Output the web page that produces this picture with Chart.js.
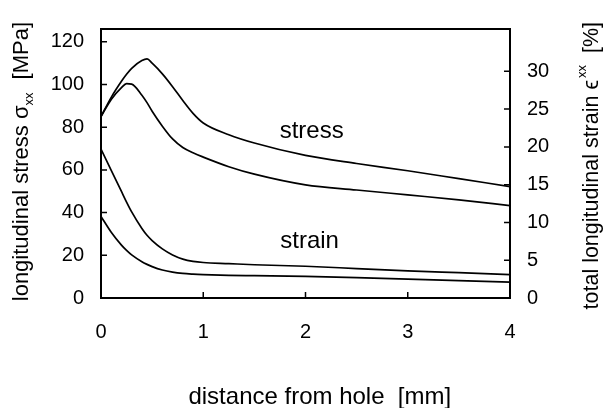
<!DOCTYPE html>
<html>
<head>
<meta charset="utf-8">
<script src="https://cdn.jsdelivr.net/npm/chart.js@4.4.1/dist/chart.umd.min.js"></script>
<style>
  html, body { margin: 0; padding: 0; background: #fff; }
  #wrap { width: 606px; height: 408px; }
</style>
</head>
<body>
<div id="wrap"><canvas id="c" width="606" height="408"></canvas></div>
<script>
// distance from hole [mm]
const distance = [0, 0.1, 0.2, 0.25, 0.3, 0.4, 0.45, 0.5, 0.6, 0.7, 0.8, 0.9, 1, 1.25, 1.5, 2, 2.5, 3, 3.5, 4];
// longitudinal stress [MPa], left axis
const stressUpper = [85, 94, 101.5, 104.8, 107.6, 111.2, 112, 110, 105, 99, 92.5, 86.5, 82, 76.5, 72.6, 66.8, 63, 59.6, 55.9, 52.2];
const stressLower = [85, 93, 98.5, 100.4, 100.2, 95, 91.5, 87.5, 80.5, 74.5, 70.5, 68, 66, 61.5, 58, 53, 50.6, 48.3, 46, 43.3];
// total longitudinal strain [%], right axis
const strainUpper = [19.7, 16.9, 14.1, 12.7, 11.4, 9.2, 8.3, 7.6, 6.5, 5.7, 5.15, 4.85, 4.7, 4.55, 4.4, 4.2, 3.9, 3.6, 3.35, 3.1];
const strainLower = [10.8, 8.7, 7.0, 6.3, 5.7, 4.8, 4.45, 4.15, 3.7, 3.42, 3.25, 3.16, 3.1, 3.0, 2.95, 2.85, 2.7, 2.5, 2.3, 2.1];

const xTicks = [0, 1, 2, 3, 4];
const stressTicks = [0, 20, 40, 60, 80, 100, 120];
const strainTicks = [0, 5, 10, 15, 20, 25, 30];
const stressMax = 126;
const strainMax = 35.6;

// in-plot curve labels, in data units (x, left axis value)
const curveLabels = [
  { text: 'stress', x: 2.06, y: 78 },
  { text: 'strain', x: 2.04, y: 26.5 }
];

const FONT = '"Liberation Sans", Arial, Helvetica, sans-serif';
const pts = ys => distance.map((x, i) => ({ x, y: ys[i] }));
const setTicks = list => scale => { scale.ticks = list.map(value => ({ value })); };

const line = (data, axis) => ({
  data: pts(data), yAxisID: axis,
  borderColor: '#000', borderWidth: 1.7, pointRadius: 0,
  cubicInterpolationMode: 'monotone', fill: false
});

// draws texts in a rotated frame (reading bottom to top), ending at yEnd
function rotatedTitle(ctx, x, yEnd, parts) {
  let total = 0;
  parts.forEach(p => { ctx.font = p.size + 'px ' + FONT; p.w = ctx.measureText(p.text).width; total += p.w + (p.gap || 0); });
  ctx.save();
  ctx.translate(x, yEnd + total);
  ctx.rotate(-Math.PI / 2);
  let pos = 0;
  parts.forEach(p => {
    ctx.font = p.size + 'px ' + FONT;
    ctx.fillText(p.text, pos, p.shift || 0);
    pos += p.w + (p.gap || 0);
  });
  ctx.restore();
}

const frame = {
  id: 'frame',
  afterDraw(chart) {
    const { ctx, chartArea: a, scales } = chart;
    ctx.save();
    ctx.strokeStyle = '#000';
    ctx.lineWidth = 2;
    ctx.strokeRect(a.left, a.top, a.right - a.left, a.bottom - a.top);

    ctx.lineWidth = 1.5;
    ctx.beginPath();
    scales.y.ticks.forEach(t => { const y = scales.y.getPixelForValue(t.value); ctx.moveTo(a.left, y); ctx.lineTo(a.left + 6, y); });
    scales.y2.ticks.forEach(t => { const y = scales.y2.getPixelForValue(t.value); ctx.moveTo(a.right, y); ctx.lineTo(a.right - 6, y); });
    scales.x.ticks.forEach(t => { const x = scales.x.getPixelForValue(t.value); ctx.moveTo(x, a.bottom); ctx.lineTo(x, a.bottom - 6); });
    ctx.stroke();

    ctx.fillStyle = '#000';
    ctx.textBaseline = 'alphabetic';
    ctx.textAlign = 'left';
    rotatedTitle(ctx, 28, 22, [
      { text: 'longitudinal stress ', size: 22 },
      { text: 'σ', size: 22 },
      { text: 'xx', size: 13, shift: 5, gap: 13 },
      { text: '[MPa]', size: 22 }
    ]);
    rotatedTitle(ctx, 598, 22, [
      { text: 'total longitudinal strain ', size: 21.5 },
      { text: 'ϵ', size: 21.5, gap: 2 },
      { text: 'xx', size: 13, shift: -12, gap: 12 },
      { text: '[%]', size: 21.5 }
    ]);

    ctx.textAlign = 'center';
    ctx.font = '24px ' + FONT;
    ctx.fillText('distance from hole  [mm]', a.left + (a.right - a.left) * 0.535, 404);

    ctx.textBaseline = 'middle';
    curveLabels.forEach(l => {
      ctx.fillText(l.text, scales.x.getPixelForValue(l.x), scales.y.getPixelForValue(l.y));
    });
    ctx.restore();
  }
};

const tickFont = { family: FONT, size: 20 };

new Chart(document.getElementById('c'), {
  type: 'line',
  data: {
    datasets: [
      line(stressUpper, 'y'),
      line(stressLower, 'y'),
      line(strainUpper, 'y2'),
      line(strainLower, 'y2')
    ]
  },
  options: {
    responsive: false,
    animation: false,
    layout: { padding: { top: 24, left: 0, right: 0, bottom: 0 } },
    plugins: { legend: { display: false }, tooltip: { enabled: false } },
    scales: {
      x: {
        type: 'linear', min: 0, max: 4,
        afterBuildTicks: setTicks(xTicks),
        afterFit: s => { s.height = 110; },
        grid: { display: false, drawTicks: false },
        border: { display: false },
        ticks: { color: '#000', font: tickFont, padding: 22, maxRotation: 0 }
      },
      y: {
        position: 'left', min: 0, max: stressMax,
        afterBuildTicks: setTicks(stressTicks),
        afterFit: s => { s.width = 101; },
        grid: { display: false, drawTicks: false },
        border: { display: false },
        ticks: { color: '#000', font: tickFont, padding: 17 }
      },
      y2: {
        position: 'right', min: 0, max: strainMax,
        afterBuildTicks: setTicks(strainTicks),
        afterFit: s => { s.width = 96; },
        grid: { display: false, drawTicks: false },
        border: { display: false },
        ticks: { color: '#000', font: tickFont, padding: 17 }
      }
    }
  },
  plugins: [frame]
});
</script>
</body>
</html>
